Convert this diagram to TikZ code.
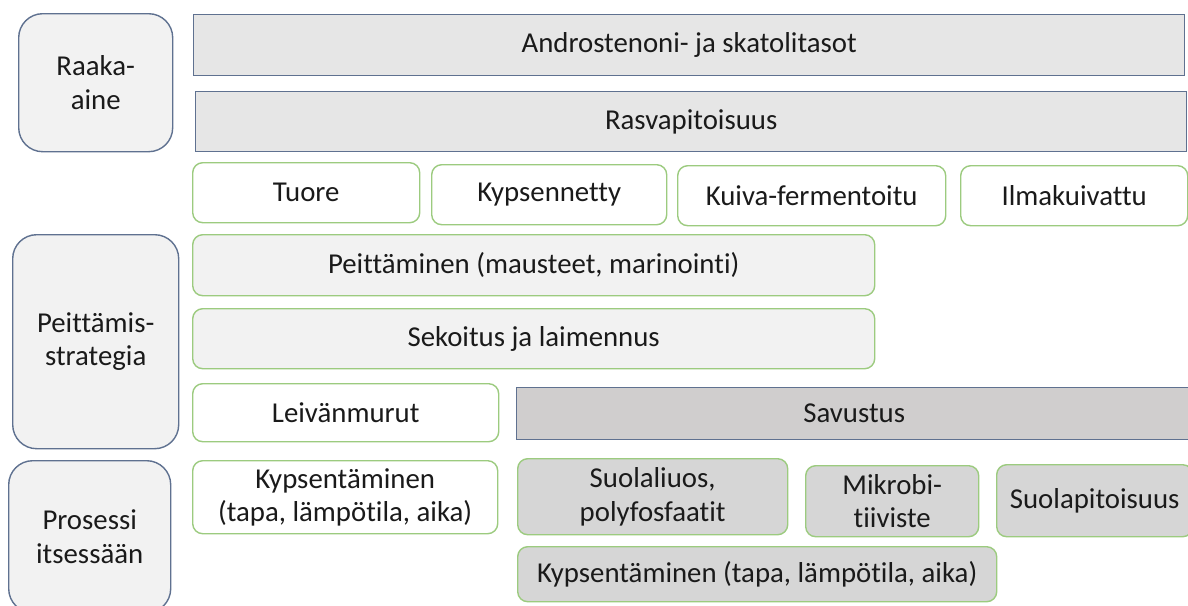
\documentclass[tikz,border=0pt]{standalone}
\usepackage{fontspec}
\setmainfont{Carlito}[Ligatures=NoCommon]
\definecolor{bluegray}{HTML}{5F7190}
\definecolor{greenb}{HTML}{9CCB7F}
\definecolor{sidefill}{HTML}{F2F2F2}
\definecolor{topfill}{HTML}{E6E6E6}
\definecolor{smokefill}{HTML}{D0CECE}
\definecolor{procfill}{HTML}{D6D6D6}
\definecolor{txt}{HTML}{1A1A1A}
\begin{document}
\begin{tikzpicture}[x=1pt,y=-1pt,
  base/.style={anchor=north west, inner sep=0pt, align=center, text=txt,
    font=\fontsize{28.8}{33.5}\selectfont, line width=1.4pt},
  sidebox/.style={base, draw=bluegray, fill=sidefill, rounded corners=24pt},
  barbox/.style={base, draw=bluegray, fill=topfill},
  smokebox/.style={base, draw=bluegray, fill=smokefill},
  whitebox/.style={base, draw=greenb, fill=white, rounded corners=10pt},
  graybox/.style={base, draw=greenb, fill=sidefill, rounded corners=10pt},
  procbox/.style={base, draw=greenb, fill=procfill, rounded corners=10pt}]
\clip (0,0) rectangle (1188,605);
\fill[white] (0,0) rectangle (1188,605);
% side labels
\node[sidebox, minimum width=154pt, minimum height=138pt] (raaka) at (18,13) {Raaka-\\aine};
\node[sidebox, minimum width=166pt, minimum height=214pt] (peitt) at (12,234) {Peittämis-\\strategia};
\node[sidebox, minimum width=162pt, minimum height=152pt] (pros) at (8,460) {Prosessi\\itsessään};
% raw material bars
\node[barbox, minimum width=991pt, minimum height=61pt] (andro) at (193,14) {Androstenoni- ja skatolitasot};
\node[barbox, minimum width=991pt, minimum height=60pt] (rasva) at (195,91) {Rasvapitoisuus};
% product types
\node[whitebox, minimum width=227pt, minimum height=60pt] (tuore) at (192,162) {Tuore};
\node[whitebox, minimum width=235pt, minimum height=60pt] (kyps) at (431,164) {Kypsennetty};
\node[whitebox, minimum width=268pt, minimum height=60pt] (kuiva) at (677,165) {Kuiva-fermentoitu};
\node[whitebox, minimum width=227pt, minimum height=60pt] (ilma) at (960,165) {Ilmakuivattu};
% masking
\node[graybox, minimum width=682pt, minimum height=61pt] (peitmaus) at (192,234) {Peittäminen (mausteet, marinointi)};
\node[graybox, minimum width=682pt, minimum height=60pt] (sekoitus) at (192,308) {Sekoitus ja laimennus};
\node[whitebox, minimum width=306pt, minimum height=58pt] (leivan) at (192,383) {Leivänmurut};
\node[smokebox, minimum width=675pt, minimum height=52pt] (savustus) at (516,387) {Savustus};
% process
\node[whitebox, minimum width=305pt, minimum height=73pt] (kypsent) at (192,460) {Kypsentäminen\\(tapa, lämpötila, aika)};
\node[procbox, minimum width=270pt, minimum height=76pt] (suola) at (517,458) {Suolaliuos,\\polyfosfaatit};
\node[procbox, minimum width=173pt, minimum height=71pt] (mikrobi) at (805,465) {Mikrobi-\\tiiviste};
\node[procbox, minimum width=196pt, minimum height=72pt] (suolap) at (996,464) {Suolapitoisuus};
\node[procbox, minimum width=479pt, minimum height=55pt] (kypsent2) at (517,546) {Kypsentäminen (tapa, lämpötila, aika)};
\end{tikzpicture}
\end{document}
